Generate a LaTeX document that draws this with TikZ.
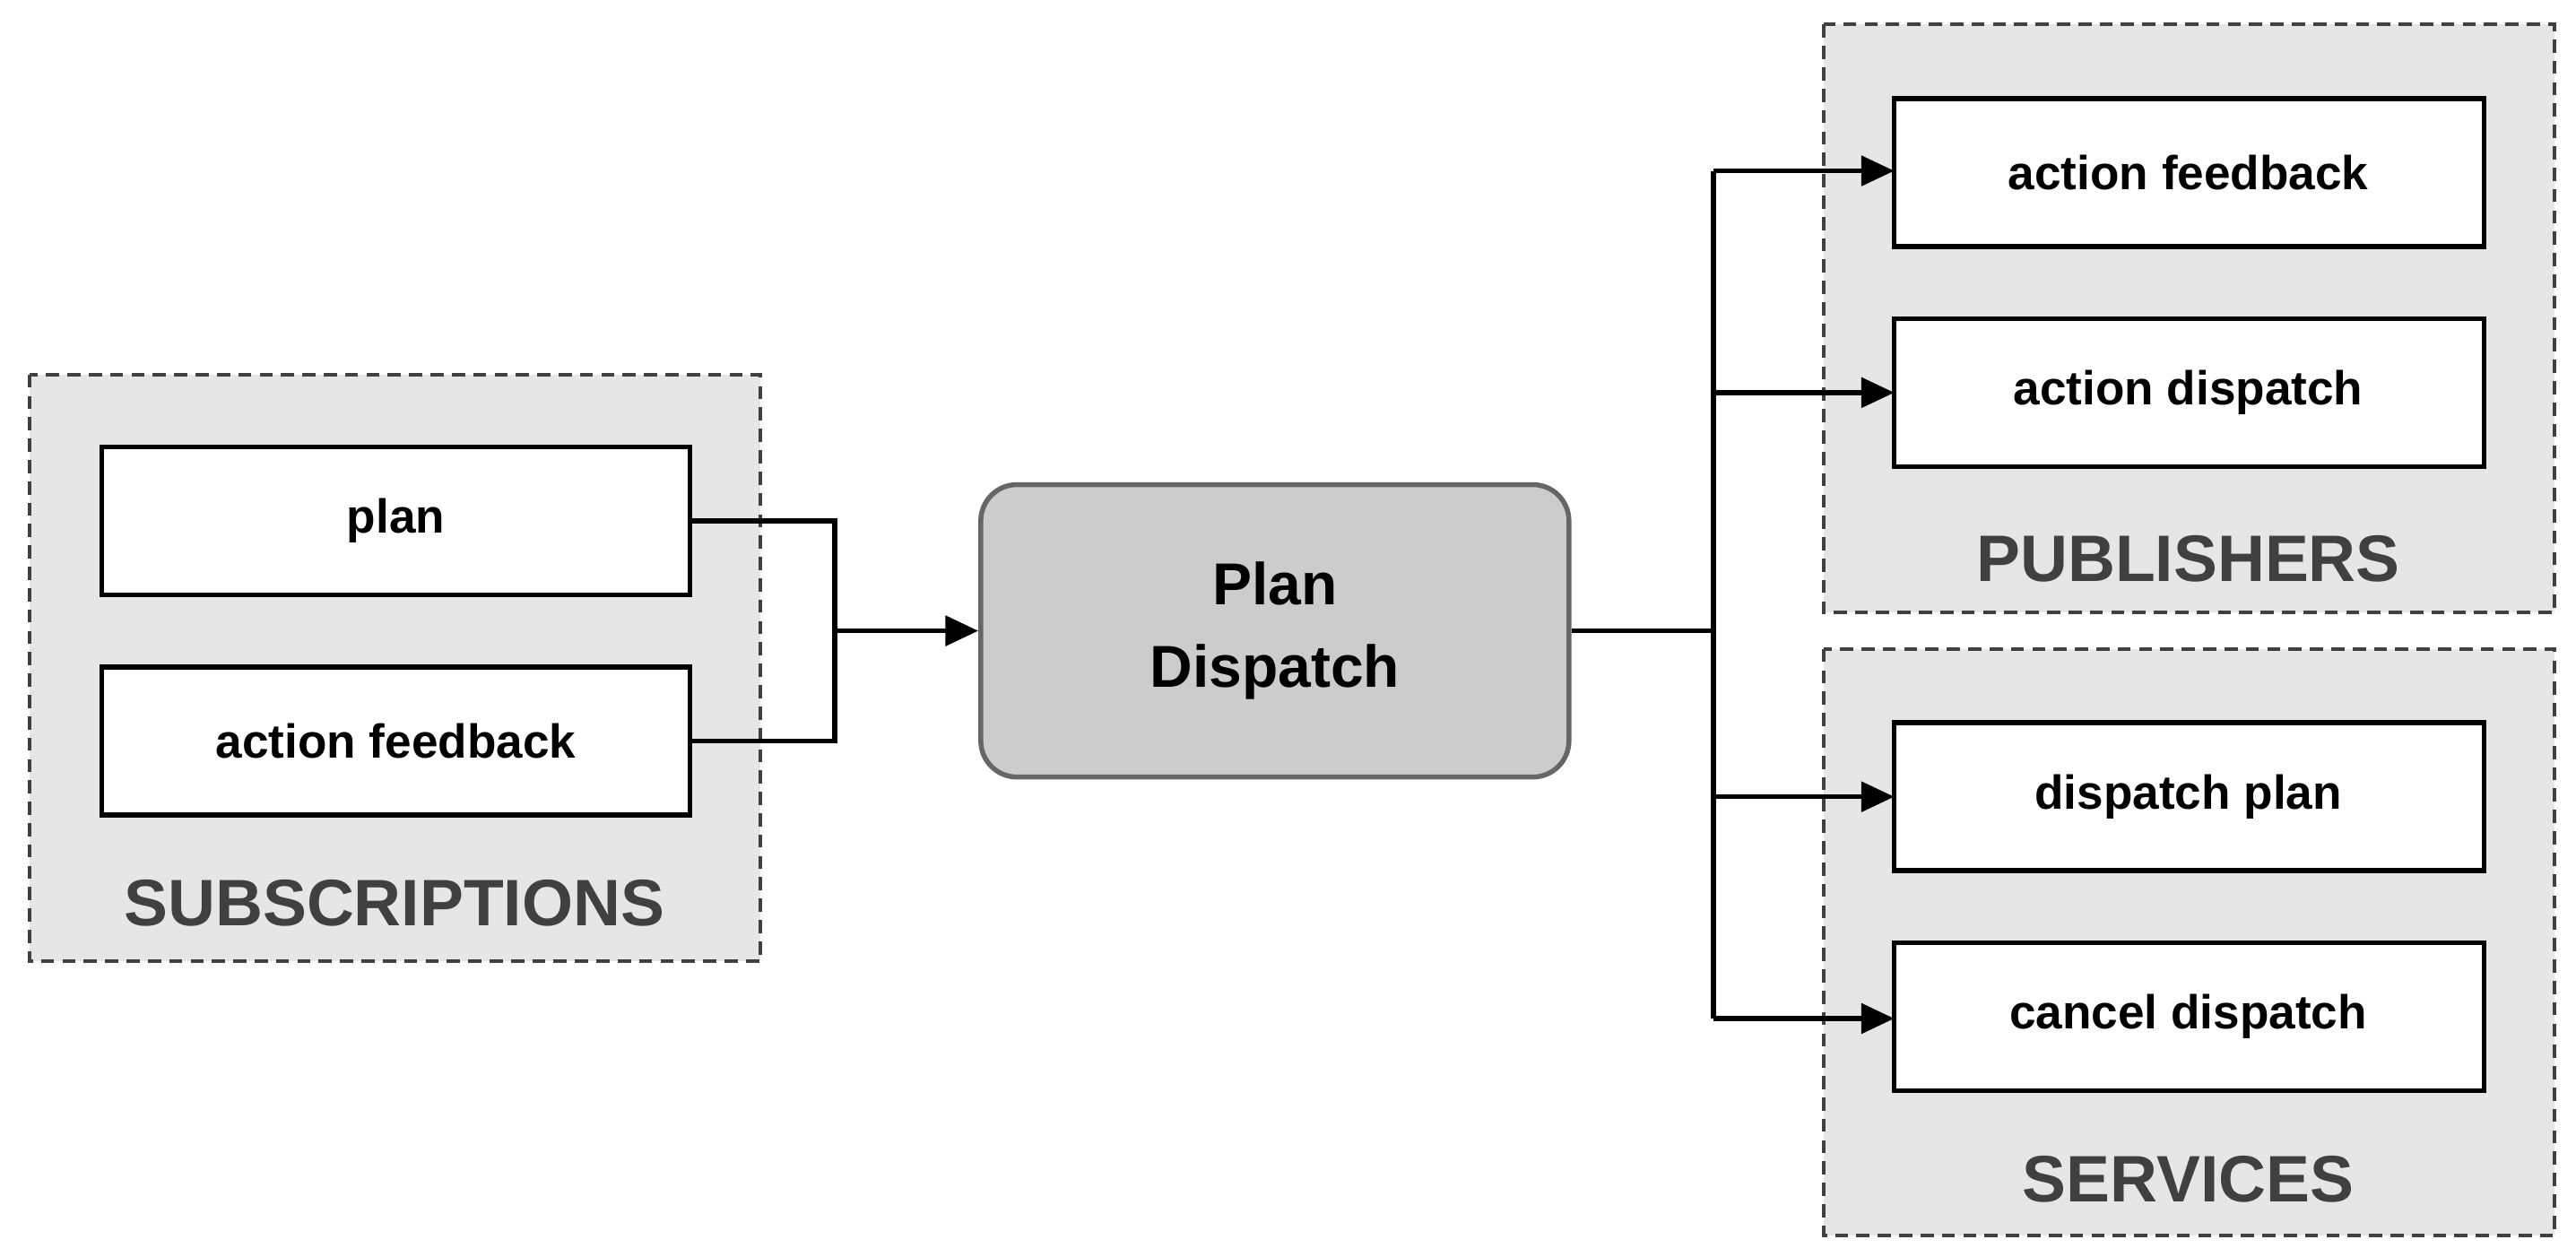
\documentclass[tikz,border=0pt]{standalone}
\usepackage{fontspec}
\setmainfont{Liberation Sans}
\usetikzlibrary{arrows.meta}
\definecolor{grp}{HTML}{E6E6E6}
\definecolor{lbl}{HTML}{404040}
\begin{document}
\begin{tikzpicture}[x=1pt,y=-1pt,
  grpbox/.style={draw=lbl,fill=grp,dashed,dash pattern=on 8pt off 5pt,line width=2.2pt},
  item/.style={draw=black,fill=white,line width=3pt,font=\fontsize{29}{34}\selectfont\bfseries},
  glabel/.style={text=lbl,font=\fontsize{40}{46}\selectfont\bfseries},
  conn/.style={line width=3pt},
  arr/.style={line width=3pt,-{Triangle[length=20pt,width=18pt]}}]
\useasboundingbox (0,0) rectangle (1568,765);
% groups
\draw[grpbox] (18,228) rectangle (463,585);
\draw[grpbox] (1110,15) rectangle (1555,373);
\draw[grpbox] (1110,395) rectangle (1555,752);
\node[glabel] (gs) at (240,550) {SUBSCRIPTIONS};
\node[glabel] (gp) at (1332,340) {PUBLISHERS};
\node[glabel] (gv) at (1332,718) {SERVICES};
% items
\draw[item] (62,272) rectangle (420,362); \node[item,draw=none,fill=none] (plan) at (241,317) {plan};
\draw[item] (62,406) rectangle (420,496); \node[item,draw=none,fill=none] (saf) at (241,451) {action feedback};
\draw[item] (1153,60) rectangle (1512,150); \node[item,draw=none,fill=none] (paf) at (1332,105) {action feedback};
\draw[item] (1153,194) rectangle (1512,284); \node[item,draw=none,fill=none] (pad) at (1332,239) {action dispatch};
\draw[item] (1153,440) rectangle (1512,530); \node[item,draw=none,fill=none] (sdp) at (1332,485) {dispatch plan};
\draw[item] (1153,574) rectangle (1512,664); \node[item,draw=none,fill=none] (scd) at (1332,619) {cancel dispatch};
% central
\node[draw=black!60,fill=black!20,line width=3pt,rounded corners=22pt,minimum width=358pt,minimum height=178pt,align=center,font=\fontsize{36}{50}\selectfont\bfseries] (pd) at (776,384) {Plan\\Dispatch};
% connectors
\coordinate (jl) at (508,384);
\coordinate (jr) at (1043,384);
\draw[conn] (420,317) -| (jl) |- (420,451);
\draw[arr] (jl) -- (pd.west);
\draw[conn] (pd.east) -- (jr);
\draw[conn] (1043,104) -- (1043,620);
\draw[arr] (1043,104) -- (1153,104);
\draw[arr] (1043,239) -- (1153,239);
\draw[arr] (1043,485) -- (1153,485);
\draw[arr] (1043,620) -- (1153,620);
\end{tikzpicture}
\end{document}
